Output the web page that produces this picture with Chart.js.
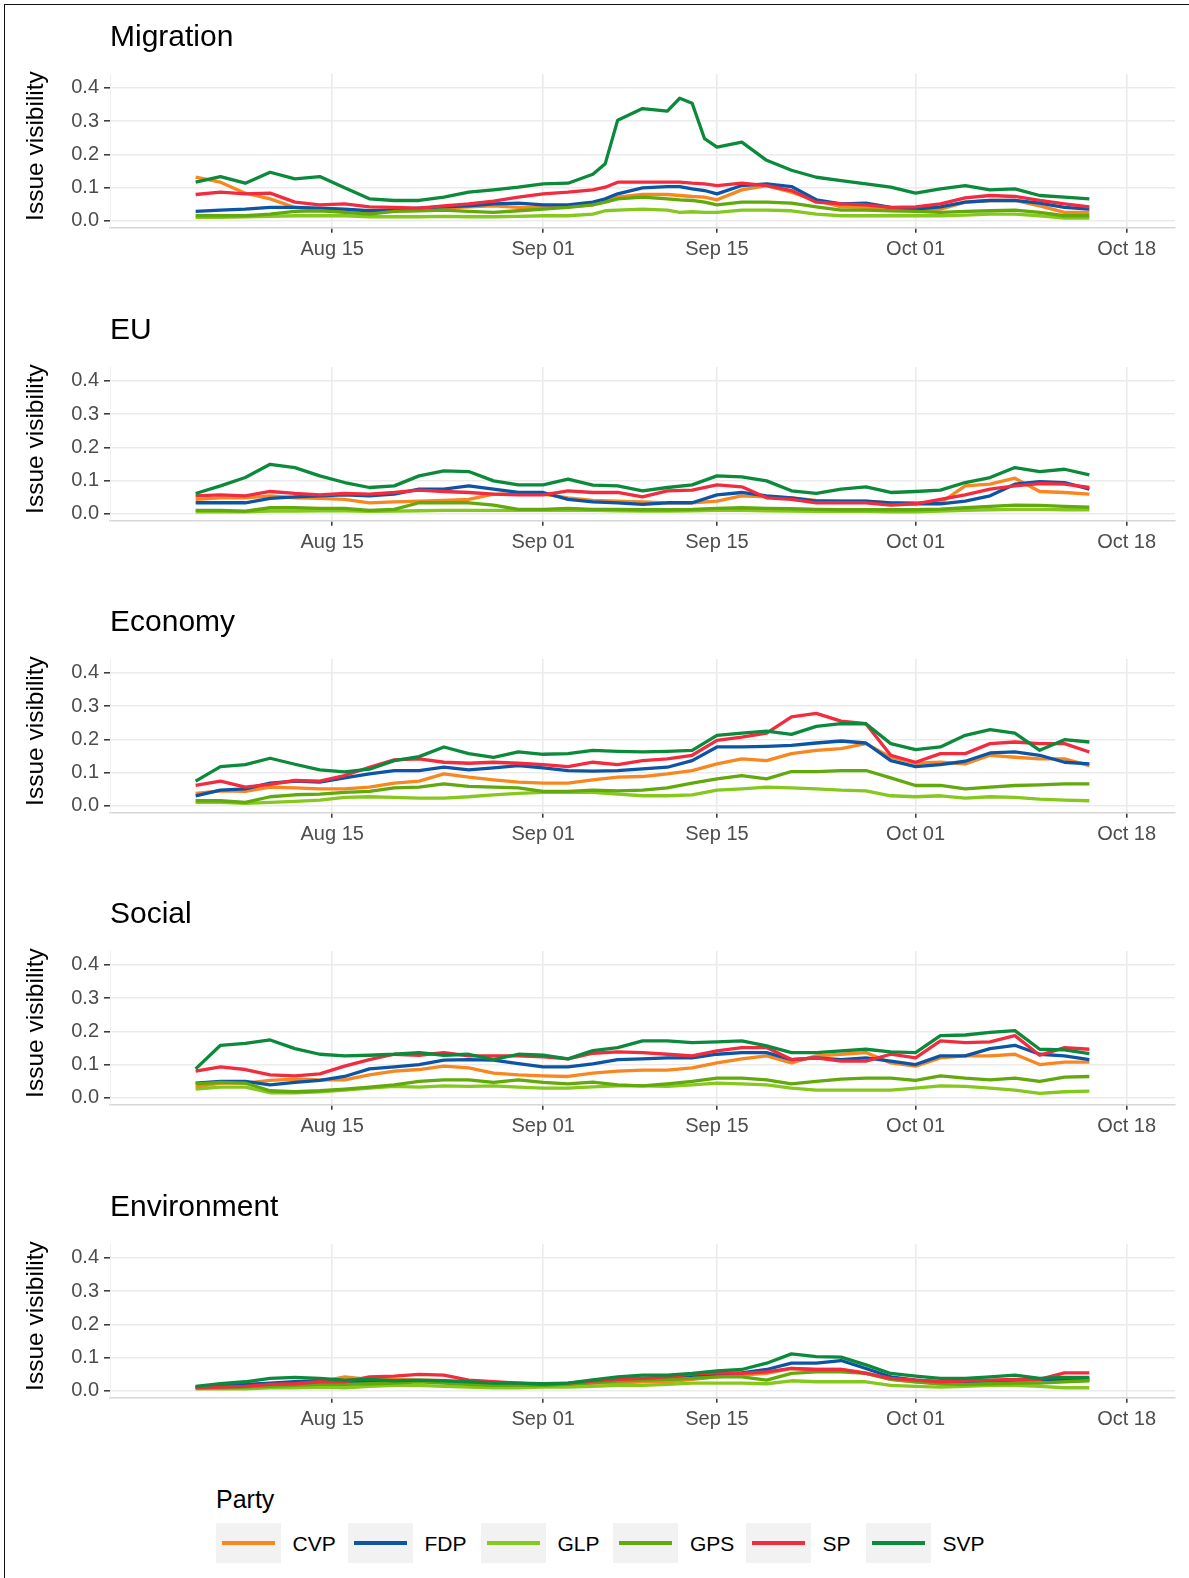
<!DOCTYPE html>
<html>
<head>
<meta charset="utf-8">
<title>Issue visibility by party</title>
<script src="https://cdn.jsdelivr.net/npm/chart.js@4.4.1/dist/chart.umd.min.js"></script>
<style>
  html, body { margin: 0; padding: 0; background: #fff; }
  body { width: 1189px; height: 1578px; position: relative; overflow: hidden;
         font-family: "Liberation Sans", Arial, Helvetica, sans-serif; }
  .frame { position: absolute; left: 4px; top: 4px; width: 1300px; height: 1700px;
           border-left: 1.5px solid #111; border-top: 1.5px solid #111; box-sizing: border-box; }
  .panel { position: absolute; left: 0; width: 1189px; height: 290px; }
  .panel canvas { position: absolute; left: 0; top: 0; }
  .ptitle { position: absolute; left: 110px; top: 21px; font-size: 30px; line-height: 30px;
            color: #000; white-space: nowrap; }
  .ytitle { position: absolute; left: -115px; top: 131px; width: 300px; height: 30px;
            line-height: 30px; text-align: center; font-size: 24.5px; color: #000;
            transform: rotate(-90deg); white-space: nowrap; }
  .legend-title { position: absolute; left: 216px; top: 1487px; font-size: 25px; line-height: 25px; color: #000; }
  .key { position: absolute; top: 1523px; width: 65px; height: 40px; background: #F2F2F2; }
  .key span { position: absolute; left: 6px; right: 6px; top: 18px; height: 4px; }
  .key-label { position: absolute; top: 1533px; font-size: 21px; line-height: 21px; color: #000; }
</style>
</head>
<body>
<div class="frame"></div>
<div id="panels"></div>
<div id="legend"></div>
<script>
// Days counted from 1 August (0 = Aug 01).
const days = [3,5,7,9,11,13,15,17,19,21,23,25,27,29,31,33,35,37,39,41,43,45,47,49,51,53,55,57,59,61,63,65,67,69,71,73,75];
const migDays = [3,5,7,9,11,13,15,17,19,21,23,25,27,29,31,33,35,36,37,39,41,42,43,44,45,47,49,51,53,55,57,59,61,63,65,67,69,71,73,75];

const tickDays = [14, 31, 45, 61, 78];
const tickLabels = ['Aug 15', 'Sep 01', 'Sep 15', 'Oct 01', 'Oct 18'];
const yTicks = [0, 0.1, 0.2, 0.3, 0.4];

const parties = ['CVP', 'FDP', 'GLP', 'GPS', 'SP', 'SVP'];
const issues = ['Migration', 'EU', 'Economy', 'Social', 'Environment'];

// Migration
const migCVP = [0.131,0.116,0.083,0.066,0.040,0.035,0.032,0.022,0.030,0.032,0.038,0.042,0.045,0.040,0.040,0.042,0.048,0.061,0.071,0.079,0.079,0.076,0.073,0.071,0.063,0.093,0.106,0.086,0.061,0.042,0.040,0.035,0.032,0.035,0.056,0.061,0.061,0.045,0.025,0.025];
const migFDP = [0.028,0.032,0.035,0.040,0.040,0.038,0.035,0.030,0.032,0.038,0.042,0.045,0.051,0.053,0.048,0.048,0.056,0.066,0.081,0.099,0.103,0.103,0.096,0.091,0.081,0.106,0.111,0.103,0.063,0.051,0.053,0.040,0.035,0.042,0.056,0.061,0.061,0.053,0.040,0.035];
const migGLP = [0.010,0.010,0.012,0.013,0.015,0.015,0.015,0.012,0.012,0.012,0.013,0.012,0.012,0.013,0.015,0.015,0.020,0.030,0.032,0.035,0.032,0.025,0.027,0.025,0.025,0.032,0.032,0.030,0.020,0.015,0.015,0.015,0.015,0.015,0.017,0.020,0.020,0.015,0.008,0.008];
const migGPS = [0.015,0.015,0.015,0.020,0.028,0.030,0.025,0.020,0.028,0.030,0.032,0.028,0.025,0.030,0.035,0.040,0.048,0.056,0.066,0.071,0.066,0.063,0.061,0.056,0.048,0.056,0.056,0.053,0.042,0.032,0.032,0.030,0.028,0.025,0.028,0.030,0.032,0.025,0.015,0.015];
const migSP  = [0.079,0.086,0.081,0.083,0.056,0.048,0.051,0.042,0.040,0.038,0.045,0.051,0.059,0.071,0.081,0.086,0.093,0.101,0.116,0.116,0.116,0.116,0.113,0.111,0.106,0.113,0.106,0.091,0.056,0.051,0.048,0.040,0.042,0.051,0.069,0.076,0.073,0.061,0.051,0.042];
const migSVP = [0.116,0.133,0.113,0.146,0.126,0.133,0.099,0.066,0.061,0.061,0.071,0.086,0.093,0.101,0.111,0.113,0.140,0.172,0.303,0.338,0.330,0.369,0.354,0.247,0.222,0.237,0.182,0.152,0.131,0.121,0.111,0.101,0.083,0.096,0.106,0.093,0.096,0.076,0.071,0.066];

// EU
const euCVP = [0.043,0.048,0.048,0.054,0.048,0.046,0.043,0.033,0.036,0.038,0.040,0.043,0.059,0.059,0.059,0.048,0.040,0.038,0.036,0.033,0.033,0.038,0.054,0.051,0.048,0.040,0.038,0.038,0.033,0.033,0.033,0.084,0.089,0.107,0.067,0.064,0.059];
const euFDP = [0.033,0.033,0.033,0.046,0.051,0.054,0.057,0.054,0.059,0.074,0.074,0.084,0.074,0.064,0.064,0.043,0.036,0.033,0.028,0.033,0.033,0.057,0.064,0.054,0.048,0.038,0.038,0.038,0.033,0.030,0.030,0.038,0.054,0.089,0.097,0.094,0.074];
const euGLP = [0.006,0.006,0.006,0.008,0.008,0.009,0.009,0.007,0.008,0.009,0.010,0.010,0.010,0.010,0.010,0.010,0.010,0.009,0.008,0.008,0.009,0.010,0.010,0.009,0.008,0.007,0.007,0.007,0.006,0.006,0.008,0.010,0.012,0.013,0.013,0.012,0.012];
const euGPS = [0.010,0.010,0.008,0.018,0.018,0.016,0.016,0.010,0.013,0.033,0.033,0.033,0.026,0.013,0.013,0.016,0.013,0.013,0.012,0.012,0.013,0.016,0.018,0.016,0.015,0.013,0.012,0.012,0.012,0.012,0.014,0.018,0.022,0.026,0.025,0.022,0.020];
const euSP  = [0.054,0.057,0.054,0.067,0.061,0.057,0.061,0.059,0.064,0.071,0.067,0.064,0.059,0.057,0.057,0.069,0.064,0.064,0.051,0.069,0.071,0.087,0.081,0.048,0.043,0.033,0.033,0.033,0.026,0.030,0.043,0.057,0.074,0.084,0.091,0.089,0.079];
const euSVP = [0.061,0.084,0.109,0.149,0.139,0.114,0.094,0.079,0.084,0.114,0.129,0.127,0.099,0.087,0.087,0.104,0.086,0.084,0.069,0.079,0.087,0.114,0.111,0.099,0.069,0.061,0.074,0.081,0.064,0.067,0.071,0.094,0.109,0.139,0.127,0.134,0.117];

// Economy
const ecoCVP = [0.037,0.045,0.043,0.056,0.054,0.051,0.051,0.056,0.068,0.074,0.096,0.086,0.078,0.071,0.068,0.068,0.078,0.086,0.088,0.096,0.106,0.126,0.141,0.136,0.157,0.167,0.172,0.187,0.146,0.128,0.131,0.126,0.152,0.146,0.141,0.141,0.121];
const ecoFDP = [0.030,0.047,0.051,0.068,0.074,0.071,0.084,0.096,0.106,0.106,0.116,0.108,0.114,0.121,0.114,0.106,0.104,0.106,0.111,0.116,0.136,0.177,0.177,0.179,0.182,0.189,0.195,0.189,0.136,0.118,0.124,0.134,0.159,0.162,0.152,0.131,0.126];
const ecoGLP = [0.010,0.010,0.007,0.010,0.013,0.017,0.025,0.027,0.025,0.023,0.023,0.027,0.033,0.037,0.040,0.040,0.040,0.035,0.030,0.030,0.033,0.047,0.051,0.056,0.054,0.051,0.047,0.045,0.030,0.027,0.030,0.023,0.027,0.025,0.020,0.017,0.015];
const ecoGPS = [0.015,0.015,0.010,0.027,0.033,0.035,0.040,0.043,0.054,0.056,0.066,0.058,0.056,0.054,0.043,0.043,0.047,0.045,0.047,0.054,0.068,0.081,0.091,0.081,0.103,0.103,0.106,0.106,0.084,0.061,0.061,0.051,0.056,0.061,0.063,0.066,0.066];
const ecoSP  = [0.061,0.074,0.056,0.064,0.076,0.074,0.091,0.116,0.138,0.141,0.131,0.128,0.131,0.128,0.124,0.118,0.131,0.124,0.136,0.141,0.152,0.197,0.207,0.219,0.268,0.278,0.255,0.247,0.152,0.131,0.157,0.157,0.187,0.192,0.187,0.187,0.162];
const ecoSVP = [0.074,0.118,0.124,0.143,0.125,0.108,0.102,0.110,0.136,0.148,0.177,0.157,0.146,0.162,0.155,0.157,0.167,0.164,0.162,0.164,0.167,0.212,0.219,0.225,0.215,0.239,0.247,0.247,0.187,0.169,0.177,0.212,0.229,0.219,0.167,0.199,0.192];

// Social
const socCVP = [0.032,0.044,0.044,0.052,0.056,0.054,0.054,0.069,0.080,0.085,0.095,0.090,0.074,0.069,0.066,0.064,0.074,0.080,0.083,0.083,0.090,0.105,0.117,0.126,0.105,0.126,0.131,0.136,0.105,0.095,0.120,0.126,0.126,0.131,0.100,0.107,0.107];
const socFDP = [0.044,0.049,0.049,0.039,0.046,0.052,0.064,0.087,0.093,0.100,0.113,0.115,0.113,0.103,0.093,0.093,0.102,0.115,0.117,0.120,0.120,0.131,0.136,0.136,0.115,0.120,0.115,0.120,0.110,0.100,0.126,0.126,0.148,0.158,0.131,0.126,0.115];
const socGLP = [0.026,0.032,0.032,0.015,0.015,0.018,0.023,0.029,0.034,0.032,0.036,0.034,0.036,0.032,0.029,0.029,0.033,0.036,0.036,0.034,0.039,0.044,0.042,0.039,0.029,0.023,0.023,0.023,0.023,0.029,0.036,0.034,0.029,0.023,0.013,0.018,0.020];
const socGPS = [0.042,0.046,0.044,0.021,0.018,0.021,0.026,0.032,0.039,0.049,0.054,0.054,0.046,0.054,0.046,0.042,0.047,0.039,0.036,0.042,0.049,0.059,0.059,0.054,0.042,0.049,0.056,0.059,0.059,0.052,0.066,0.059,0.054,0.059,0.049,0.062,0.064];
const socSP  = [0.080,0.093,0.085,0.069,0.066,0.072,0.095,0.115,0.131,0.128,0.136,0.126,0.126,0.126,0.123,0.117,0.134,0.138,0.136,0.131,0.126,0.141,0.151,0.151,0.115,0.120,0.110,0.110,0.131,0.120,0.171,0.166,0.168,0.187,0.128,0.151,0.146];
const socSVP = [0.087,0.158,0.164,0.174,0.148,0.131,0.126,0.128,0.131,0.136,0.128,0.131,0.115,0.131,0.128,0.117,0.142,0.151,0.171,0.171,0.166,0.168,0.171,0.156,0.136,0.136,0.141,0.146,0.138,0.136,0.187,0.189,0.197,0.202,0.146,0.144,0.133];

// Environment
const envCVP = [0.011,0.013,0.016,0.021,0.023,0.027,0.042,0.034,0.034,0.032,0.030,0.023,0.021,0.019,0.018,0.021,0.023,0.023,0.027,0.027,0.034,0.042,0.047,0.052,0.067,0.064,0.064,0.054,0.034,0.027,0.021,0.021,0.027,0.032,0.030,0.034,0.037];
const envFDP = [0.011,0.013,0.019,0.023,0.027,0.030,0.027,0.027,0.027,0.030,0.027,0.021,0.019,0.021,0.019,0.021,0.030,0.034,0.037,0.040,0.044,0.050,0.054,0.064,0.083,0.083,0.091,0.067,0.042,0.032,0.027,0.027,0.030,0.032,0.034,0.034,0.032];
const envGLP = [0.006,0.006,0.006,0.009,0.009,0.011,0.009,0.013,0.016,0.016,0.013,0.011,0.009,0.009,0.011,0.011,0.013,0.016,0.016,0.019,0.023,0.023,0.023,0.021,0.030,0.027,0.027,0.027,0.016,0.013,0.011,0.013,0.016,0.016,0.013,0.009,0.009];
const envGPS = [0.009,0.009,0.011,0.013,0.016,0.019,0.019,0.021,0.023,0.027,0.023,0.019,0.016,0.016,0.016,0.019,0.024,0.029,0.032,0.034,0.037,0.042,0.042,0.032,0.052,0.057,0.057,0.052,0.034,0.027,0.021,0.019,0.021,0.023,0.023,0.027,0.030];
const envSP  = [0.009,0.011,0.013,0.019,0.021,0.027,0.027,0.042,0.044,0.049,0.047,0.032,0.027,0.023,0.019,0.023,0.029,0.034,0.037,0.042,0.050,0.054,0.052,0.057,0.067,0.064,0.064,0.052,0.037,0.032,0.027,0.030,0.032,0.034,0.034,0.054,0.054];
const envSVP = [0.013,0.021,0.027,0.037,0.040,0.037,0.032,0.034,0.030,0.032,0.030,0.027,0.023,0.023,0.021,0.023,0.033,0.042,0.047,0.047,0.052,0.060,0.064,0.083,0.111,0.103,0.101,0.078,0.052,0.044,0.037,0.037,0.042,0.047,0.037,0.040,0.040];

const panelDays = [migDays, days, days, days, days];
const panelSeries = [
  [migCVP, migFDP, migGLP, migGPS, migSP, migSVP],
  [euCVP, euFDP, euGLP, euGPS, euSP, euSVP],
  [ecoCVP, ecoFDP, ecoGLP, ecoGPS, ecoSP, ecoSVP],
  [socCVP, socFDP, socGLP, socGPS, socSP, socSVP],
  [envCVP, envFDP, envGLP, envGPS, envSP, envSVP]
];

const partyColors = ['#F8871F', '#0C55A6', '#86C81E', '#62A90C', '#F22B3E', '#0B8A3C'];
const panelTops = [0, 293, 585, 877, 1170];
const fontFamily = '"Liberation Sans", Arial, Helvetica, sans-serif';
const tickText = '#4D4D4D';
const gridColor = '#EBEBEB';

const host = document.getElementById('panels');

issues.forEach((issue, p) => {
  const wrap = document.createElement('div');
  wrap.className = 'panel';
  wrap.style.top = panelTops[p] + 'px';

  const canvas = document.createElement('canvas');
  canvas.width = 1189;
  canvas.height = 290;
  wrap.appendChild(canvas);

  const title = document.createElement('div');
  title.className = 'ptitle';
  title.textContent = issue;
  wrap.appendChild(title);

  const ytitle = document.createElement('div');
  ytitle.className = 'ytitle';
  ytitle.textContent = 'Issue visibility';
  wrap.appendChild(ytitle);

  host.appendChild(wrap);

  const xs = panelDays[p];
  const datasets = parties.map((party, i) => ({
    label: party,
    data: xs.map((d, j) => ({ x: d, y: panelSeries[p][i][j] })),
    borderColor: partyColors[i],
    backgroundColor: partyColors[i],
    borderWidth: 3.3,
    pointRadius: 0,
    tension: 0,
    fill: false,
    borderJoinStyle: 'round',
    order: parties.length - i
  }));

  new Chart(canvas, {
    type: 'line',
    data: { datasets },
    options: {
      responsive: false,
      animation: false,
      events: [],
      layout: { padding: { left: 0, right: 14, top: 74, bottom: 0 } },
      plugins: { legend: { display: false }, tooltip: { enabled: false }, title: { display: false } },
      scales: {
        x: {
          type: 'linear',
          min: -3.9,
          max: 81.9,
          afterBuildTicks: (s) => { s.ticks = tickDays.map(v => ({ value: v })); },
          afterFit: (s) => { s.height = 62.3; },
          ticks: {
            autoSkip: false, maxRotation: 0, padding: 5,
            color: tickText, font: { family: fontFamily, size: 20 },
            callback: (v) => tickLabels[tickDays.indexOf(v)]
          },
          grid: { color: gridColor, lineWidth: 1.6, drawTicks: true, tickLength: 5, tickColor: '#333333', tickWidth: 1.5 },
          border: { display: true, color: '#D6D6D6', width: 1.6 }
        },
        y: {
          min: -0.021,
          max: 0.442,
          afterBuildTicks: (s) => { s.ticks = yTicks.map(v => ({ value: v })); },
          afterFit: (s) => { s.width = 110; },
          ticks: {
            padding: 5, color: tickText, font: { family: fontFamily, size: 20 },
            callback: (v) => v.toFixed(1)
          },
          grid: { color: gridColor, lineWidth: 1.6, drawTicks: true, tickLength: 6, tickColor: '#333333', tickWidth: 1.5 },
          border: { display: true, color: '#EFEFEF', width: 1 }
        }
      }
    }
  });
});

// Legend
const legend = document.getElementById('legend');
const lt = document.createElement('div');
lt.className = 'legend-title';
lt.textContent = 'Party';
legend.appendChild(lt);
const keyLeft = [215.5, 347.5, 480.5, 613, 745.5, 865.5];
parties.forEach((party, i) => {
  const key = document.createElement('div');
  key.className = 'key';
  key.style.left = keyLeft[i] + 'px';
  const line = document.createElement('span');
  line.style.background = partyColors[i];
  key.appendChild(line);
  legend.appendChild(key);
  const lab = document.createElement('div');
  lab.className = 'key-label';
  lab.style.left = (keyLeft[i] + 77) + 'px';
  lab.textContent = party;
  legend.appendChild(lab);
});
</script>
</body>
</html>
